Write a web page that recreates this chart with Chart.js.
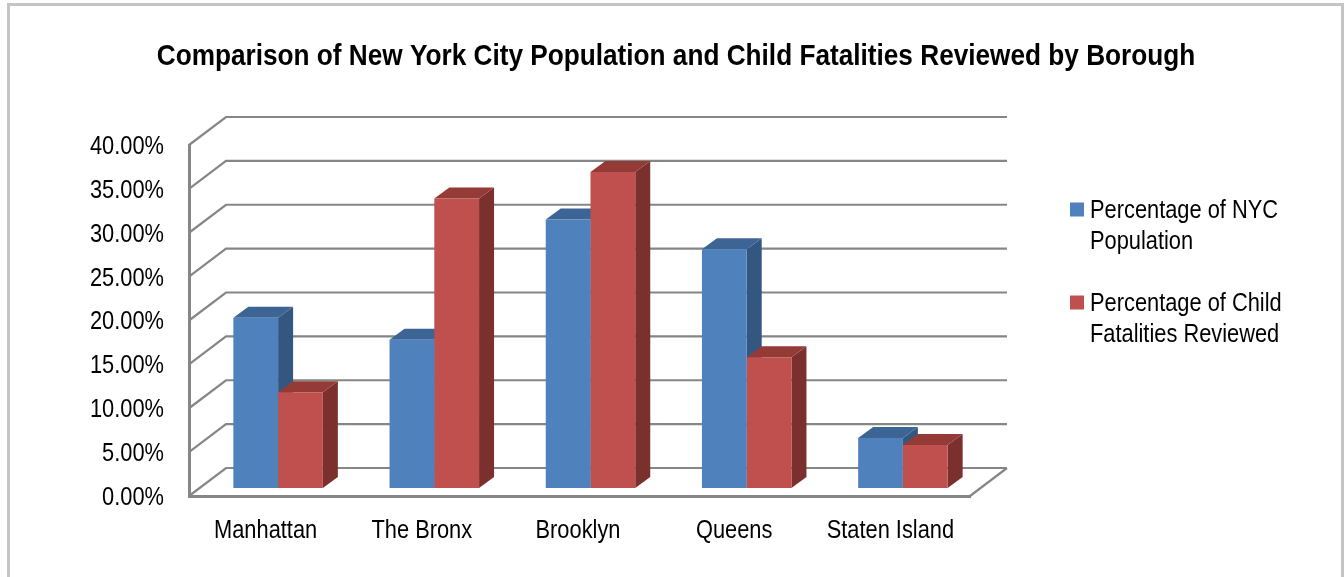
<!DOCTYPE html>
<html>
<head>
<meta charset="utf-8">
<style>
    html, body { margin: 0; padding: 0; background: #fff; }
    canvas { display: block; }
</style>
<script src="https://cdn.jsdelivr.net/npm/chart.js@4"></script>
</head>
<body>
<canvas id="boroughChart" width="1344" height="577"></canvas>
<script>
const chartTitle = 'Comparison of New York City Population and Child Fatalities Reviewed by Borough';
const categories = ['Manhattan', 'The Bronx', 'Brooklyn', 'Queens', 'Staten Island'];
const populationLabel = ['Percentage of NYC', 'Population'];
const fatalitiesLabel = ['Percentage of Child', 'Fatalities Reviewed'];
const populationShare = [19.4, 16.9, 30.6, 27.2, 5.7];
const fatalitiesShare = [10.9, 33.0, 36.0, 14.9, 4.9];

const FONT = '"Liberation Sans", Arial, sans-serif';
const GRID = '#868686';
const TEXT_SQUEEZE = 0.873;         // the original text is horizontally condensed
const wall = {dx: 37, dy: -28};     // depth of the floor / side wall
const barShift = {dx: 11, dy: -8};  // bars stand inside the floor
const barDepth = {dx: 15, dy: -11};

const canvas = document.getElementById('boroughChart');
const context = canvas.getContext('2d');

// no condensed font is installed, so squeeze every label around its anchor
const plainFillText = context.fillText.bind(context);
const legendLines = populationLabel.concat(fatalitiesLabel);
context.fillText = function (text, x, y) {
    let nudge = 0;
    if (legendLines.includes(text)) nudge = -6.5;
    if (categories.includes(text)) nudge = -1.5;
    context.save();
    context.translate(x + nudge, y + 2);
    context.scale(TEXT_SQUEEZE, 1);
    plainFillText(text, 0, 0);
    context.restore();
};

function poly(ctx, pts, fill) {
    ctx.beginPath();
    pts.forEach((p, i) => i ? ctx.lineTo(p[0], p[1]) : ctx.moveTo(p[0], p[1]));
    ctx.closePath();
    ctx.fillStyle = fill;
    ctx.fill();
}

const frame = {
    id: 'frame',
    beforeDraw(chart) {
        const ctx = chart.ctx;
        ctx.save();
        ctx.strokeStyle = '#c4c4c4';
        ctx.lineWidth = 3;
        ctx.beginPath();
        ctx.moveTo(8.5, 577);
        ctx.lineTo(8.5, 4.5);
        ctx.lineTo(1342.5, 4.5);
        ctx.lineTo(1342.5, 577);
        ctx.stroke();
        ctx.restore();
    }
};

const moveBoxes = {
    id: 'moveBoxes',
    afterLayout(chart) {
        const lg = chart.legend;
        const w = lg.width, h = lg.height;
        lg.left = 1039; lg.right = lg.left + w;
        lg.top = 166; lg.bottom = lg.top + h;
        chart.titleBlock.left = 8;
        chart.titleBlock.right = 1344;
    }
};

// side wall, floor and back wall, hung on the y scale ticks
const walls = {
    id: 'walls',
    beforeDatasetsDraw(chart) {
        const ctx = chart.ctx, y = chart.scales.y, area = chart.chartArea;
        const backRight = area.right + wall.dx;
        ctx.save();
        ctx.strokeStyle = GRID;
        ctx.lineWidth = 2.2;
        y.ticks.forEach(t => {
            const py = y.getPixelForValue(t.value);
            ctx.beginPath();
            ctx.moveTo(area.left, py);
            ctx.lineTo(area.left + wall.dx, py + wall.dy);
            ctx.lineTo(backRight, py + wall.dy);
            ctx.stroke();
        });
        ctx.beginPath();
        ctx.moveTo(area.right, area.bottom);
        ctx.lineTo(backRight, area.bottom + wall.dy);
        ctx.stroke();
        ctx.restore();
    }
};

// sides and tops go down first, blue then red, the library paints the fronts over them
const bars3d = {
    id: 'bars3d',
    beforeDatasetsDraw(chart) {
        const ctx = chart.ctx, d = barDepth;
        ctx.save();
        ctx.translate(barShift.dx, barShift.dy);
        chart.data.datasets.forEach((ds, i) => {
            chart.getDatasetMeta(i).data.forEach(bar => {
                const l = bar.x - bar.width / 2, r = bar.x + bar.width / 2;
                poly(ctx, [[r, bar.y], [r + d.dx, bar.y + d.dy], [r + d.dx, bar.base + d.dy], [r, bar.base]], ds.sideColor);
                poly(ctx, [[l, bar.y], [l + d.dx, bar.y + d.dy], [r + d.dx, bar.y + d.dy], [r, bar.y]], ds.topColor);
            });
        });
        ctx.restore();
    },
    beforeDatasetDraw(chart) {
        chart.ctx.save();
        chart.ctx.translate(barShift.dx, barShift.dy);
    },
    afterDatasetDraw(chart) {
        chart.ctx.restore();
    }
};

new Chart(context, {
    type: 'bar',
    data: {
        labels: categories,
        datasets: [{
            label: populationLabel,
            data: populationShare,
            backgroundColor: '#4F81BD',
            sideColor: '#335780',
            topColor: '#3C6595',
            clip: false
        }, {
            label: fatalitiesLabel,
            data: fatalitiesShare,
            backgroundColor: '#C0504D',
            sideColor: '#7C302E',
            topColor: '#943A37',
            clip: false
        }]
    },
    options: {
        responsive: false,
        animation: false,
        layout: {padding: {left: 0, right: 374, top: 0, bottom: 0}},
        categoryPercentage: 0.573,
        barPercentage: 1,
        plugins: {
            title: {
                display: true,
                text: chartTitle,
                color: '#000',
                font: {family: FONT, size: 30, weight: 'bold', lineHeight: '36px'},
                padding: {top: 37, bottom: 72}
            },
            legend: {
                position: 'chartArea',
                align: 'start',
                labels: {
                    boxWidth: 14,
                    boxHeight: 14,
                    padding: 31,
                    color: '#000',
                    font: {family: FONT, size: 25, lineHeight: '31px'}
                }
            },
            tooltip: {enabled: false}
        },
        scales: {
            x: {
                grid: {display: false},
                border: {color: GRID, width: 3},
                ticks: {color: '#000', padding: 10, font: {family: FONT, size: 25}, maxRotation: 0},
                afterFit(s) { s.height = 81; }
            },
            y: {
                min: 0,
                max: 40,
                grid: {display: false},
                border: {color: GRID, width: 3},
                ticks: {
                    stepSize: 5,
                    color: '#000',
                    padding: 17,
                    font: {family: FONT, size: 25},
                    callback: v => v.toFixed(2) + '%'
                },
                afterFit(s) { s.width = 189; }
            }
        }
    },
    plugins: [frame, moveBoxes, walls, bars3d]
});
</script>
</body>
</html>
